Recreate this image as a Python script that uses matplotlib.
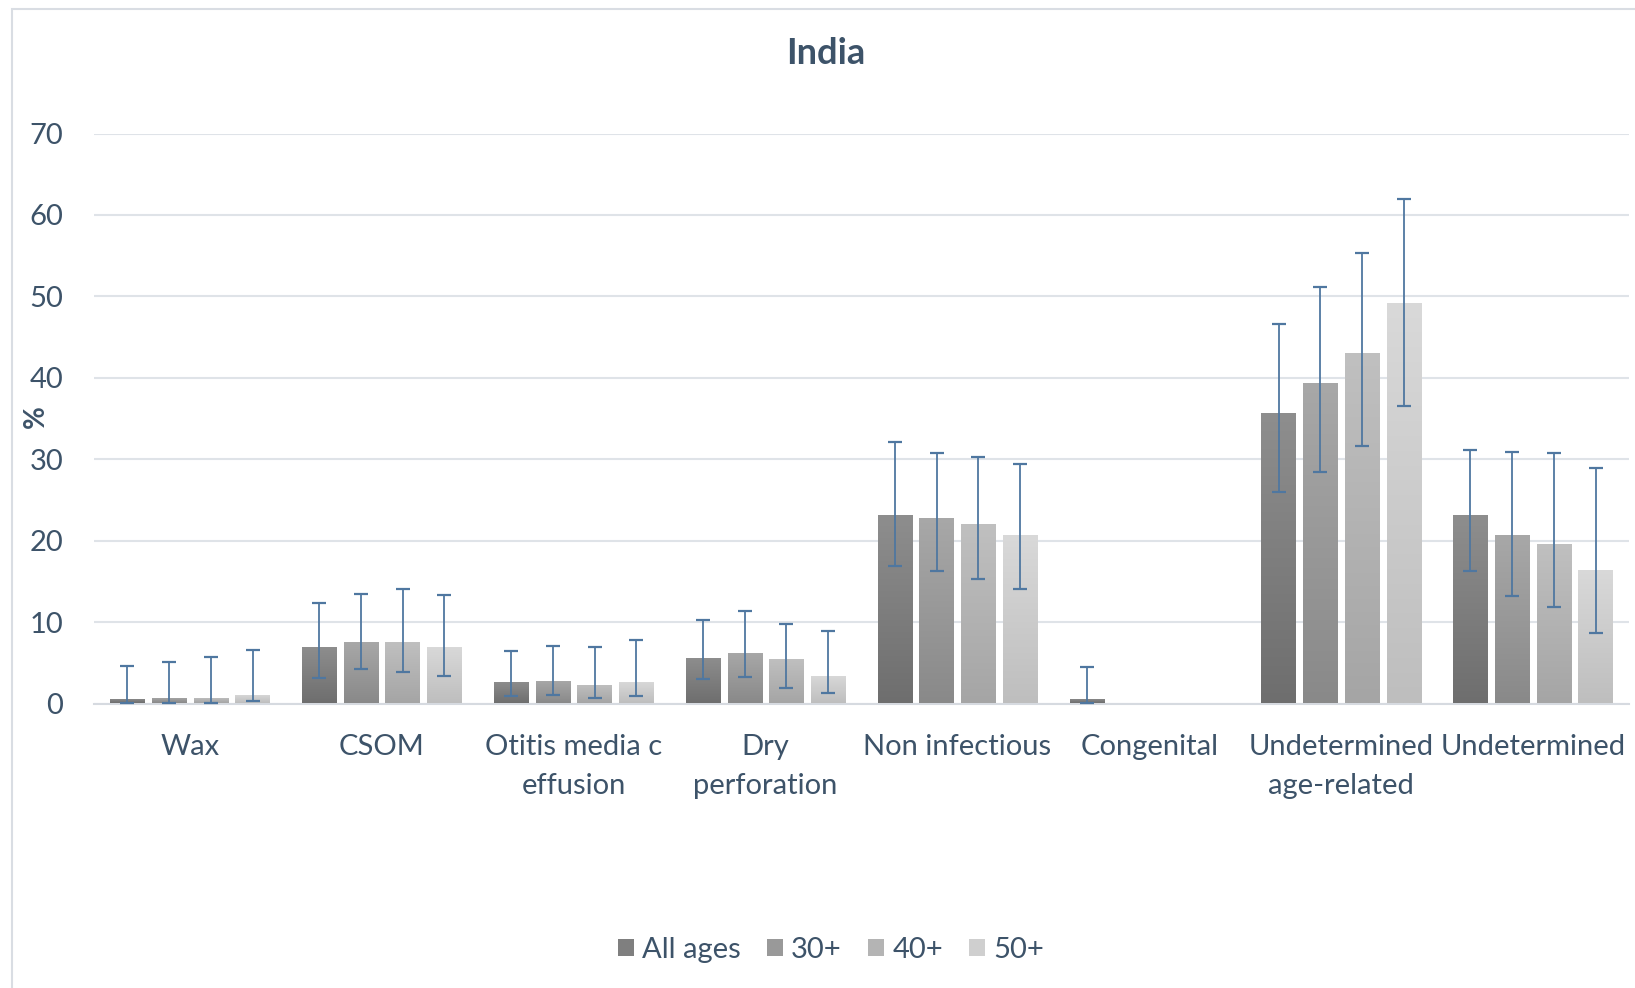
import numpy as np
import matplotlib
matplotlib.use("Agg")
import matplotlib.pyplot as plt
from matplotlib.colors import LinearSegmentedColormap
from matplotlib.patches import Rectangle

categories = ["Wax", "CSOM", "Otitis media c\neffusion", "Dry\nperforation",
              "Non infectious", "Congenital", "Undetermined\nage-related", "Undetermined"]
series = ["All ages", "30+", "40+", "50+"]

all_ages = [0.6, 7.0, 2.6, 5.6, 23.2, 0.6, 35.7, 23.2]
age30 = [0.7, 7.6, 2.8, 6.2, 22.8, np.nan, 39.4, 20.7]
age40 = [0.7, 7.6, 2.3, 5.5, 22.0, np.nan, 43.1, 19.6]
age50 = [1.0, 7.0, 2.7, 3.4, 20.7, np.nan, 49.2, 16.4]

upper_all = [4.6, 12.3, 6.5, 10.3, 32.1, 4.5, 46.6, 31.1]
upper_30 = [5.1, 13.5, 7.1, 11.4, 30.8, np.nan, 51.2, 30.9]
upper_40 = [5.7, 14.1, 6.9, 9.8, 30.3, np.nan, 55.3, 30.8]
upper_50 = [6.6, 13.3, 7.8, 8.9, 29.4, np.nan, 61.9, 28.9]

lower_all = [0.1, 3.1, 0.9, 3.0, 16.9, 0.1, 26.0, 16.3]
lower_30 = [0.1, 4.2, 1.0, 3.2, 16.3, np.nan, 28.4, 13.2]
lower_40 = [0.1, 3.9, 0.7, 1.9, 15.3, np.nan, 31.6, 11.9]
lower_50 = [0.3, 3.4, 0.9, 1.3, 14.1, np.nan, 36.5, 8.6]

yticks = [0, 10, 20, 30, 40, 50, 60, 70]

values = [all_ages, age30, age40, age50]
uppers = [upper_all, upper_30, upper_40, upper_50]
lowers = [lower_all, lower_30, lower_40, lower_50]
grad = [("#6e6e6e", "#8e8e8e"), ("#898989", "#a8a8a8"),
        ("#a5a5a5", "#c0c0c0"), ("#bebebe", "#d9d9d9")]

text_color = "#3d5369"
err_color = "#4f77a0"
font = "Lato"

W, H = 1635, 988
fig = plt.figure(figsize=(W / 100, H / 100), dpi=100)
fig.patches.append(Rectangle((12 / W, -0.01), 1.05, 1 - 9 / H + 0.01, transform=fig.transFigure,
                             fill=False, edgecolor="#d9dde3", linewidth=1.5))

ax = fig.add_axes([94 / W, 1 - 703.5 / H, (1629 - 94) / W, (703.5 - 133.5) / H])
ax.set_xlim(-0.5, len(categories) - 0.5)
ax.set_ylim(0, 70)

slot = 40 / 184
bw = 33 / 184
x = np.arange(len(categories))
gradient = np.linspace(0, 1, 256).reshape(-1, 1)

for i, (vals, up, lo, (c0, c1)) in enumerate(zip(values, uppers, lowers, grad)):
    xs = x + (i - 1.5) * slot
    cmap = LinearSegmentedColormap.from_list(f"g{i}", [c0, c1])
    bars = ax.bar(xs, np.nan_to_num(vals), width=bw, color="none", edgecolor="none", zorder=2)
    for b, v in zip(bars, vals):
        if np.isnan(v):
            continue
        x0 = b.get_x()
        im = ax.imshow(gradient, cmap=cmap, origin="lower", aspect="auto",
                       extent=(x0, x0 + bw, 0, v), zorder=2, interpolation="bilinear")
        im.set_clip_path(b)
    v = np.array(vals)
    ax.errorbar(xs, v, yerr=[v - np.array(lo), np.array(up) - v], fmt="none",
                ecolor=err_color, elinewidth=1.3, capsize=5, capthick=1.6, zorder=3)
ax.set_aspect("auto")

ax.set_yticks(yticks)
ax.set_xticks(x)
ax.set_xticklabels(categories, fontsize=21, color=text_color, family=font, linespacing=1.63,
                   va="top")
ax.tick_params(axis="x", length=0, pad=22)
ax.tick_params(axis="y", length=0, pad=22, labelsize=21, labelcolor=text_color)
for lab in ax.get_yticklabels():
    lab.set_family(font)
ax.grid(axis="y", color="#dfe3e8", linewidth=1.5, zorder=0)
ax.set_axisbelow(True)
for s in ["top", "right", "left"]:
    ax.spines[s].set_visible(False)
ax.spines["bottom"].set_color("#d6dae0")
ax.spines["bottom"].set_linewidth(1.5)
ax.spines["bottom"].set_zorder(1)

fig.text(826 / W, 1 - 53 / H, "India", ha="center", va="center", fontsize=26,
         fontweight="bold", color=text_color, family=font)
fig.text(36 / W, 1 - 417 / H, "%", ha="center", va="center", fontsize=20, rotation=90,
         fontweight="bold", color=text_color, family=font)

handles = [Rectangle((0, 0), 1, 1, facecolor=c, edgecolor="none") for c in
           ["#7f7f7f", "#999999", "#b4b4b4", "#cfcfcf"]]
leg = fig.legend(handles, series, loc="center", bbox_to_anchor=(831 / W, 1 - 950 / H), ncol=4,
                 frameon=False, handlelength=0.55, handleheight=0.55,
                 handletextpad=0.28, columnspacing=0.9, prop={"family": font, "size": 21})
for t in leg.get_texts():
    t.set_color(text_color)

fig.savefig("out.png", dpi=100)
